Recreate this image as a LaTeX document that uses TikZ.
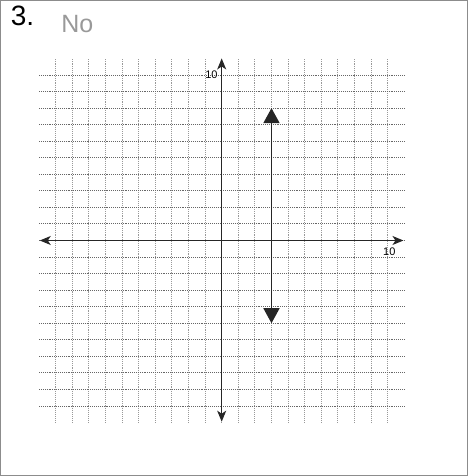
\documentclass[tikz,border=0pt]{standalone}
\usepackage{fontspec}
\setmainfont{Liberation Sans}
\usetikzlibrary{arrows.meta}
\tikzset{
  vgridline/.style={densely dotted, line width=0.9pt, black!40},
  hgridline/.style={densely dotted, line width=0.9pt, black!60},
  axisline/.style={line width=1.1pt, black!85, {Stealth[length=11pt,width=9pt,inset=3pt]}-{Stealth[length=11pt,width=9pt,inset=3pt]}},
  graphline/.style={line width=1.5pt, black!85, {Triangle[length=15pt,width=16pt]}-{Triangle[length=15pt,width=16pt]}},
  ticklabel/.style={font=\fontsize{11}{11}\selectfont, inner sep=0pt},
}
\begin{document}
\begin{tikzpicture}[x=16.6pt, y=16.55pt]
\useasboundingbox (-13.355,14.532) rectangle (14.958,-14.230);
\draw[black!45, line width=0.8pt] (-13.33,14.50) rectangle (14.82,-14.19);
% grid
\foreach \k in {-10,...,10} {
  \draw[vgridline] (\k,-11) -- (\k,11);
}
\foreach \k in {-10,...,10} {
  \draw[hgridline] (-11,\k) -- (11,\k);
}
% axes
\coordinate (xl) at (-10.96,0);
\coordinate (xr) at (10.95,0);
\coordinate (yt) at (0,11.0);
\coordinate (yb) at (0,-10.95);
\draw[axisline] (xl) -- (xr);
\draw[axisline] (yb) -- (yt);
\node[ticklabel] (ylab) at (-0.62,10.02) {10};
\node[ticklabel] (xlab) at (10.1,-0.65) {10};
% graphed line x = 3
\coordinate (ltop) at (3,8.0);
\coordinate (lbot) at (3,-5.0);
\draw[graphline] (lbot) -- (ltop);
% heading
\node[font=\fontsize{28}{28}\selectfont, inner sep=0pt] (num) at (-12.0,13.55) {3.};
\node[font=\fontsize{25}{25}\selectfont, text=black!40, inner sep=0pt] (ans) at (-8.7,13.05) {No};
\end{tikzpicture}
\end{document}
